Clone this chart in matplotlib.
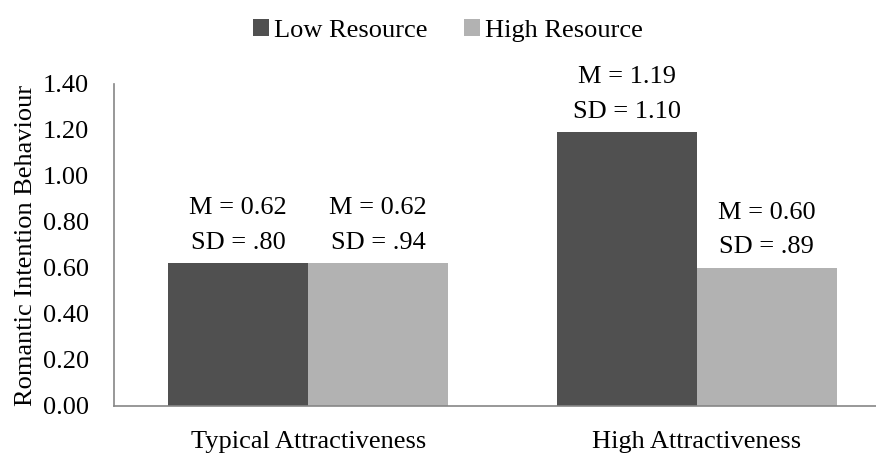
import matplotlib.pyplot as plt
import numpy as np

categories = ['Typical Attractiveness', 'High Attractiveness']
series = ['Low Resource', 'High Resource']
low_vals = [0.62, 1.19]
high_vals = [0.62, 0.60]
low_labels = ['M = 0.62\nSD = .80', 'M = 1.19\nSD = 1.10']
high_labels = ['M = 0.62\nSD = .94', 'M = 0.60\nSD = .89']
yticks = [0.0, 0.2, 0.4, 0.6, 0.8, 1.0, 1.2, 1.4]

plt.rcParams['font.family'] = ['Liberation Serif', 'DejaVu Serif']
fs = 19

W, H = 876, 453
fig = plt.figure(figsize=(W / 100, H / 100), dpi=100)
ax = fig.add_axes([114 / W, (H - 406) / H, (891 - 114) / W, (406 - 84) / H])

x = np.arange(len(categories))
bw = 0.36
b1 = ax.bar(x - bw / 2, low_vals, bw, color='#505050', label=series[0])
b2 = ax.bar(x + bw / 2, high_vals, bw, color='#b2b2b2', label=series[1])

for rects, labs in ((b1, low_labels), (b2, high_labels)):
    for r, lab in zip(rects, labs):
        ax.annotate(lab, (r.get_x() + r.get_width() / 2, r.get_height()),
                    xytext=(0, 7), textcoords='offset points',
                    ha='center', va='bottom', fontsize=fs, linespacing=1.75)

ax.set_xlim(-0.5, 1.5)
ax.set_ylim(0, 1.4)
ax.set_yticks(yticks)
ax.set_yticklabels([f'{v:.2f}' for v in yticks], fontsize=fs)
ax.set_xticks(x)
ax.set_xticklabels(categories, fontsize=fs)
ax.tick_params(length=0)
ax.tick_params(axis='y', pad=18)
ax.tick_params(axis='x', pad=18)
ax.set_ylabel('Romantic Intention Behaviour', fontsize=fs, labelpad=4)

for s in ('top', 'right'):
    ax.spines[s].set_visible(False)
for s in ('left', 'bottom'):
    ax.spines[s].set_color('#868686')
    ax.spines[s].set_linewidth(1.2)

fig.legend(loc='upper center', bbox_to_anchor=(448 / W, 1.01), ncol=2,
           frameon=False, fontsize=fs, handlelength=0.6, handleheight=0.6,
           handletextpad=0.2, columnspacing=1.4)

fig.savefig('out.png', dpi=100)
